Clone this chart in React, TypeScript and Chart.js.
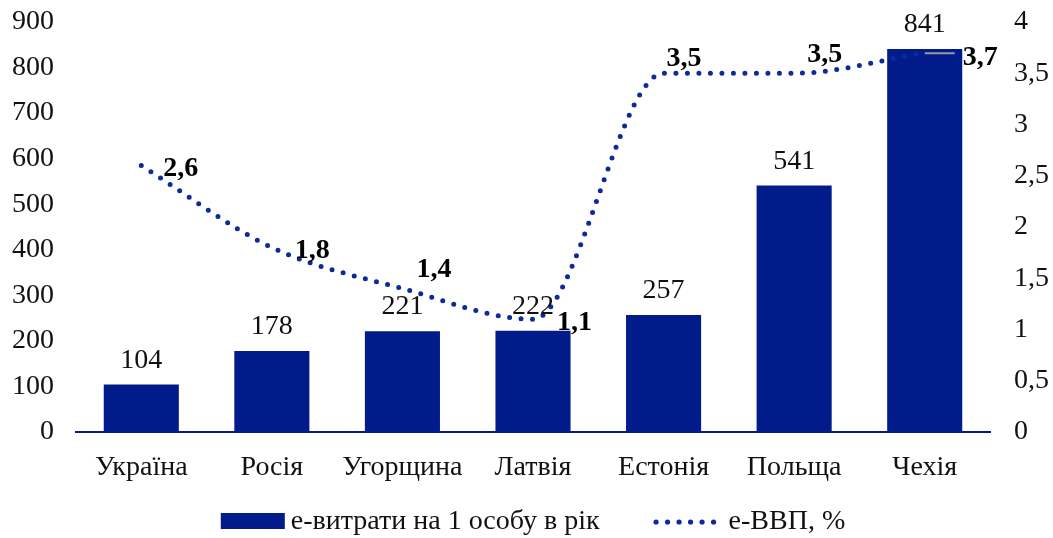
import { useEffect, useRef } from 'react';
import { Chart, registerables } from 'chart.js';

Chart.register(...registerables);

const categories = ['Україна', 'Росія', 'Угорщина', 'Латвія', 'Естонія', 'Польща', 'Чехія'];
const spendingPerPerson = [104, 178, 221, 222, 257, 541, 841];
const eGdpShare = [2.6, 1.8, 1.4, 1.1, 3.5, 3.5, 3.7];
const spendingLabel = 'е-витрати на 1 особу в рік';
const gdpLabel = 'е-ВВП, %';
const leftMax = 900;
const leftStep = 100;
const rightMax = 4;
const rightStep = 0.5;

// label placement (style): offset of label left edge / baseline from point
const lineLabelOffsets = [
  [22, 10],
  [23, 10.5],
  [14, -12],
  [24, 11],
  [3, -7],
  [13, -11],
  [38, 12.5],
];

const FONT = "'Liberation Serif', 'Times New Roman', serif";
const FONT_SIZE = 28;
const NAVY = '#021b8a';
const DOT = '#0b2a9c';

const fmt = (v: number) => String(v).replace('.', ',');

const labelsPlugin = {
  id: 'customLabels',
  afterDatasetsDraw(chart: any) {
    const ctx = chart.ctx;
    ctx.save();
    const barMeta = chart.getDatasetMeta(1);
    ctx.font = `${FONT_SIZE}px ${FONT}`;
    ctx.fillStyle = '#111';
    ctx.textAlign = 'center';
    ctx.textBaseline = 'alphabetic';
    barMeta.data.forEach((el: any, i: number) => {
      ctx.fillText(String(spendingPerPerson[i]), el.x, el.y - 17);
    });
    const lineMeta = chart.getDatasetMeta(0);
    const last = lineMeta.data[lineMeta.data.length - 1];
    ctx.strokeStyle = '#9a9a9a';
    ctx.lineWidth = 2;
    ctx.beginPath();
    ctx.moveTo(last.x, last.y + 0.5);
    ctx.lineTo(last.x + 30, last.y + 0.5);
    ctx.stroke();
    ctx.font = `bold ${FONT_SIZE}px ${FONT}`;
    ctx.fillStyle = '#000';
    ctx.textAlign = 'left';
    lineMeta.data.forEach((el: any, i: number) => {
      const [dx, dy] = lineLabelOffsets[i];
      ctx.fillText(fmt(eGdpShare[i]), el.x + dx, el.y + dy);
    });
    ctx.restore();
  },
  afterDraw(chart: any) {
    const ctx = chart.ctx;
    const area = chart.chartArea;
    ctx.save();
    ctx.font = `${FONT_SIZE}px ${FONT}`;
    ctx.textBaseline = 'middle';
    ctx.textAlign = 'left';
    const boxW = 64;
    const boxH = 16;
    const gap1 = 6;
    const t1 = ctx.measureText(spendingLabel).width;
    const between = 54;
    const dotsW = 60;
    const gap2 = 15;
    const t2 = ctx.measureText(gdpLabel).width;
    const total = boxW + gap1 + t1 + between + dotsW + gap2 + t2;
    let x = (area.left + area.right) / 2 - total / 2;
    const y = 522;
    ctx.fillStyle = NAVY;
    ctx.fillRect(x, y - boxH / 2 - 1, boxW, boxH);
    x += boxW + gap1;
    ctx.fillStyle = '#111';
    ctx.fillText(spendingLabel, x, y);
    x += t1 + between;
    ctx.fillStyle = DOT;
    for (let i = 0; i < 6; i++) {
      ctx.beginPath();
      ctx.arc(x + 2.5 + i * 11.5, y, 2.6, 0, Math.PI * 2);
      ctx.fill();
    }
    x += dotsW + gap2;
    ctx.fillStyle = '#111';
    ctx.fillText(gdpLabel, x, y);
    ctx.restore();
  },
};

export default function App() {
  const ref = useRef<HTMLCanvasElement | null>(null);
  useEffect(() => {
    document.body.style.margin = '0';
    const canvas = ref.current;
    if (!canvas) return;
    const chart = new Chart(canvas, {
      type: 'bar',
      data: {
        labels: categories,
        datasets: [
          {
            type: 'line',
            label: gdpLabel,
            data: eGdpShare,
            yAxisID: 'y1',
            borderColor: DOT,
            borderWidth: 5,
            borderDash: [0, 11.5],
            borderCapStyle: 'round',
            cubicInterpolationMode: 'monotone',
            pointRadius: 0,
            fill: false,
            order: 0,
          } as any,
          {
            type: 'bar',
            label: spendingLabel,
            data: spendingPerPerson,
            yAxisID: 'y',
            backgroundColor: NAVY,
            categoryPercentage: 1,
            barPercentage: 0.575,
            order: 1,
          },
        ],
      },
      options: {
        responsive: false,
        animation: false,
        devicePixelRatio: 1,
        layout: { padding: { top: 22, bottom: 53, left: 0, right: 0 } },
        plugins: { legend: { display: false }, tooltip: { enabled: false } },
        scales: {
          x: {
            grid: { display: false, drawTicks: false },
            border: { display: true, color: NAVY, width: 2 },
            ticks: { font: { family: FONT, size: FONT_SIZE }, color: '#111', padding: 19 },
            afterFit: (s: any) => { s.height = 53; s.paddingLeft = 0; s.paddingRight = 0; },
          },
          y: {
            position: 'left',
            min: 0,
            max: leftMax,
            grid: { display: false, drawTicks: false },
            border: { display: false },
            ticks: { stepSize: leftStep, font: { family: FONT, size: FONT_SIZE }, color: '#111', padding: 22 },
            afterFit: (s: any) => { s.width = 76; s.paddingTop = 0; s.paddingBottom = 0; },
          },
          y1: {
            position: 'right',
            min: 0,
            max: rightMax,
            grid: { display: false, drawTicks: false },
            border: { display: false },
            ticks: {
              stepSize: rightStep,
              font: { family: FONT, size: FONT_SIZE },
              color: '#111',
              padding: 24,
              callback: (v: any) => fmt(Number(v)),
            },
            afterFit: (s: any) => { s.width = 63; s.paddingTop = 0; s.paddingBottom = 0; },
          },
        },
      } as any,
      plugins: [labelsPlugin],
    });
    return () => chart.destroy();
  }, []);
  return (
    <div style={{ position: 'absolute', left: 0, top: 0, width: 1053, height: 538 }}>
      <canvas ref={ref} width={1053} height={538} />
    </div>
  );
}
